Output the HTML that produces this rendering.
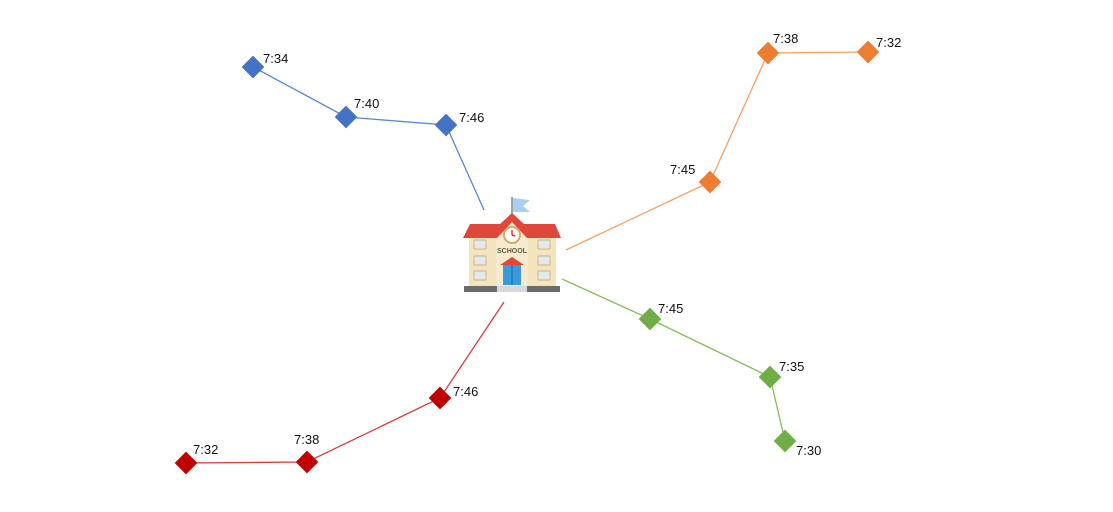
<!DOCTYPE html>
<html><head><style>body{margin:0;background:#fff}svg{display:block}text{font-family:"Liberation Sans",sans-serif;font-size:13px;fill:#111}</style></head>
<body>
<svg width="1113" height="512" viewBox="0 0 1113 512">
<!-- blue -->
<polyline points="253,67 346,117 446,125 484,210" fill="none" stroke="#5b86d0" stroke-width="1.3"/>
<!-- orange -->
<polyline points="868,52 768,53 710,182 566,250" fill="none" stroke="#f4a066" stroke-width="1.3"/>
<!-- green -->
<polyline points="562,279 650,319 770,377 785,441" fill="none" stroke="#86bd5c" stroke-width="1.3"/>
<!-- red -->
<polyline points="186,463 307,462 440,398 504,302" fill="none" stroke="#d24040" stroke-width="1.3"/>
<g fill="#4472c4">
<rect x="-8" y="-8" width="16" height="16" transform="translate(253,67) rotate(45)"/>
<rect x="-8" y="-8" width="16" height="16" transform="translate(346,117) rotate(45)"/>
<rect x="-8" y="-8" width="16" height="16" transform="translate(446,125) rotate(45)"/>
</g>
<g fill="#ed7d31">
<rect x="-8" y="-8" width="16" height="16" transform="translate(868,52) rotate(45)"/>
<rect x="-8" y="-8" width="16" height="16" transform="translate(768,53) rotate(45)"/>
<rect x="-8" y="-8" width="16" height="16" transform="translate(710,182) rotate(45)"/>
</g>
<g fill="#70ad47">
<rect x="-8" y="-8" width="16" height="16" transform="translate(650,319) rotate(45)"/>
<rect x="-8" y="-8" width="16" height="16" transform="translate(770,377) rotate(45)"/>
<rect x="-8" y="-8" width="16" height="16" transform="translate(785,441) rotate(45)"/>
</g>
<g fill="#c00000">
<rect x="-8" y="-8" width="16" height="16" transform="translate(186,463) rotate(45)"/>
<rect x="-8" y="-8" width="16" height="16" transform="translate(307,462) rotate(45)"/>
<rect x="-8" y="-8" width="16" height="16" transform="translate(440,398) rotate(45)"/>
</g>
<text x="263" y="63">7:34</text>
<text x="354" y="108">7:40</text>
<text x="459" y="122">7:46</text>
<text x="773" y="43">7:38</text>
<text x="876" y="47">7:32</text>
<text x="670" y="174">7:45</text>
<text x="658" y="313">7:45</text>
<text x="779" y="371">7:35</text>
<text x="796" y="455">7:30</text>
<text x="453" y="396">7:46</text>
<text x="294" y="444">7:38</text>
<text x="193" y="454">7:32</text>
<!-- school -->
<g>
<line x1="512" y1="197" x2="512" y2="215" stroke="#9aa" stroke-width="2"/>
<path d="M513,198 L530,200 L523,206 L530,212 L513,212 Z" fill="#a8d0f0"/>
<rect x="469" y="232" width="87" height="54" fill="#f3e3bf"/>
<rect x="496" y="228" width="32" height="58" fill="#f7ebcf"/>
<path d="M463,238 L470,224 L500,224 L512,213 L524,224 L555,224 L561,238 Z" fill="#e0463a"/>
<path d="M497,238 L512,222 L527,238 Z" fill="#f7ebcf"/>
<circle cx="512" cy="235" r="8" fill="#fff" stroke="#d9a766" stroke-width="2"/>
<line x1="512" y1="235" x2="512" y2="230" stroke="#d33" stroke-width="1.5"/>
<line x1="512" y1="235" x2="515" y2="236" stroke="#d33" stroke-width="1.5"/>
<text x="512" y="253" text-anchor="middle" style="font-size:7px;font-weight:bold;fill:#6b5a4a">SCHOOL</text>
<g fill="#dfe9ee" stroke="#d2b27a" stroke-width="1">
<rect x="474" y="240" width="12" height="9"/><rect x="474" y="256" width="12" height="9"/><rect x="474" y="271" width="12" height="9"/>
<rect x="538" y="240" width="12" height="9"/><rect x="538" y="256" width="12" height="9"/><rect x="538" y="271" width="12" height="9"/>
</g>
<path d="M500,265 L512,257 L524,265 Z" fill="#e0463a"/>
<rect x="503" y="265" width="18" height="20" fill="#3a9ad9"/>
<line x1="512" y1="265" x2="512" y2="285" stroke="#1c6ea8" stroke-width="1"/>
<rect x="464" y="286" width="33" height="6" fill="#6b6b6b"/>
<rect x="527" y="286" width="33" height="6" fill="#6b6b6b"/>
<rect x="497" y="286" width="30" height="6" fill="#d8d8d8"/>
</g>
</svg>
</body></html>
